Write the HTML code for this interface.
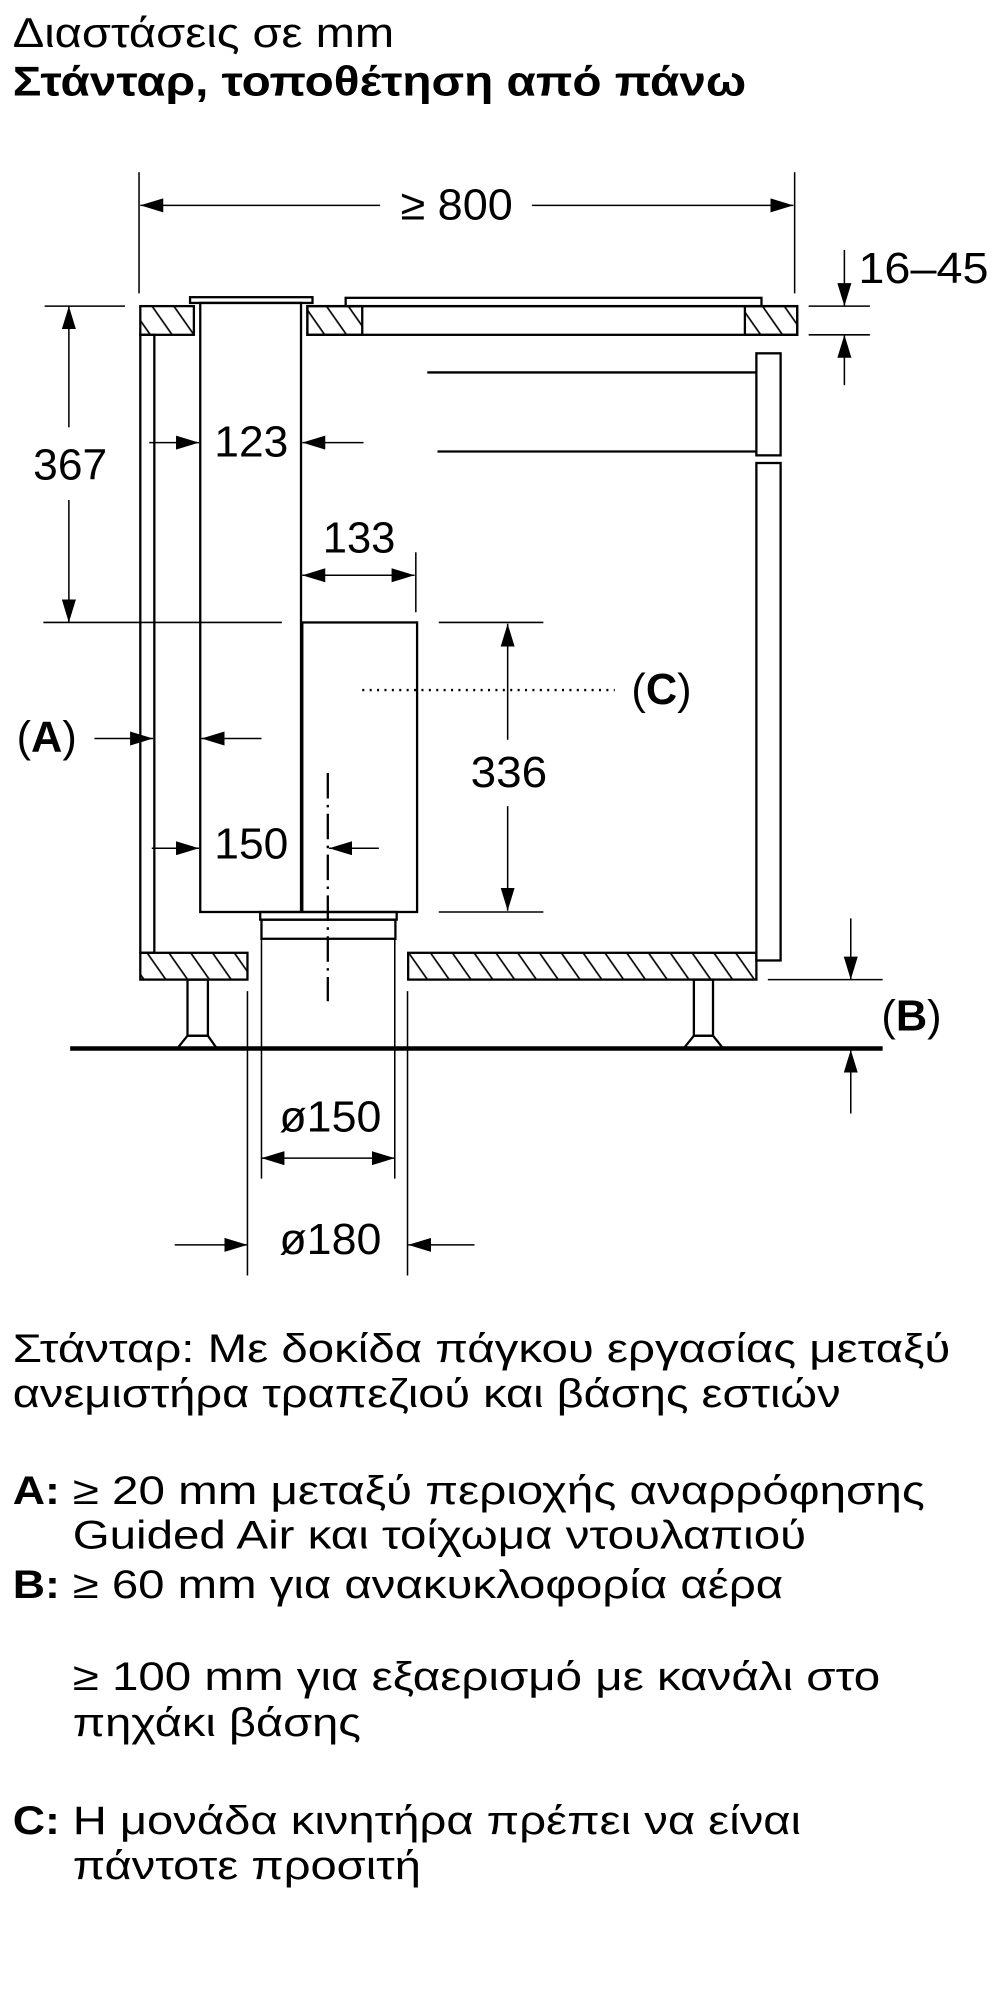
<!DOCTYPE html>
<html><head><meta charset="utf-8"><style>
html,body{margin:0;padding:0;background:#fff;}
svg{display:block;}
text{font-family:"Liberation Sans","DejaVu Sans",sans-serif;fill:#000;}
</style></head><body>
<svg width="1000" height="2000" viewBox="0 0 784 1568" xmlns="http://www.w3.org/2000/svg">
<defs>
<marker id="ar" viewBox="0 0 18 11" refX="18" refY="5.5" markerWidth="18" markerHeight="11" markerUnits="userSpaceOnUse" orient="auto-start-reverse"><path d="M0,0 L18,5.5 L0,11 Z" fill="#000"/></marker>
<pattern id="h" patternUnits="userSpaceOnUse" width="14" height="200" patternTransform="rotate(-35)"><line x1="2" y1="0" x2="2" y2="200" stroke="#000" stroke-width="1.3"/></pattern>
</defs>

<text x="10" y="37" font-size="33" textLength="299" lengthAdjust="spacingAndGlyphs">Διαστάσεις σε mm</text>
<text x="10" y="75" font-size="33" font-weight="bold" textLength="575" lengthAdjust="spacingAndGlyphs">Στάνταρ, τοποθέτηση από πάνω</text>

<g fill="none" stroke="#000" stroke-width="1.8">
<rect x="110" y="240" width="42" height="22.5" fill="url(#h)"/>
<rect x="241" y="240" width="384" height="22.5"/>
<rect x="241" y="240" width="43" height="22.5" fill="url(#h)"/>
<rect x="584" y="240" width="41" height="22.5" fill="url(#h)"/>
<rect x="271" y="233.5" width="326" height="6.5"/>
<rect x="149" y="233" width="96" height="4.5"/>
<rect x="157" y="237.5" width="79" height="477.5"/>
<rect x="110" y="262.5" width="11" height="484.5"/>
<rect x="593" y="277" width="19" height="80"/>
<rect x="593" y="363" width="19" height="390"/>
<line x1="335" y1="292" x2="593" y2="292"/>
<line x1="343" y1="354" x2="593" y2="354"/>
<rect x="237" y="488" width="90" height="227"/>
<rect x="204" y="715" width="107" height="6"/>
<rect x="205" y="721" width="105" height="15"/>
<rect x="110" y="747" width="84" height="21" fill="url(#h)"/>
<rect x="320" y="747" width="273" height="21" fill="url(#h)"/>
<rect x="147" y="768" width="16" height="44"/>
<path d="M147,812 L163,812 L170,822 L139,822 Z"/>
<rect x="544" y="768" width="15" height="44"/>
<path d="M544,812 L559,812 L567,822 L536,822 Z"/>
</g>
<line x1="55" y1="822" x2="692" y2="822" stroke="#000" stroke-width="3.5"/>

<g fill="none" stroke="#000" stroke-width="1.2">
<line x1="109" y1="135" x2="109" y2="230"/>
<line x1="623" y1="135" x2="623" y2="230"/>
<line x1="298" y1="161" x2="110" y2="161" marker-end="url(#ar)"/>
<line x1="417" y1="161" x2="622" y2="161" marker-end="url(#ar)"/>
<line x1="634" y1="240" x2="682" y2="240"/>
<line x1="634" y1="262.5" x2="682" y2="262.5"/>
<line x1="662" y1="196" x2="662" y2="240" marker-end="url(#ar)"/>
<line x1="662" y1="302" x2="662" y2="262.5" marker-end="url(#ar)"/>
<line x1="35" y1="240" x2="98" y2="240"/>
<line x1="34" y1="488" x2="221" y2="488"/>
<line x1="54" y1="335" x2="54" y2="240" marker-end="url(#ar)"/>
<line x1="54" y1="392" x2="54" y2="488" marker-end="url(#ar)"/>
<line x1="117" y1="347" x2="156" y2="347" marker-end="url(#ar)"/>
<line x1="285" y1="347" x2="237" y2="347" marker-end="url(#ar)"/>
<line x1="326" y1="433" x2="326" y2="480"/>
<line x1="237" y1="451" x2="325" y2="451" marker-start="url(#ar)" marker-end="url(#ar)"/>
<line x1="344" y1="488" x2="426" y2="488"/>
<line x1="344" y1="715" x2="426" y2="715"/>
<line x1="398" y1="580" x2="398" y2="489" marker-end="url(#ar)"/>
<line x1="398" y1="632" x2="398" y2="714" marker-end="url(#ar)"/>
<line x1="284" y1="541" x2="482" y2="541" stroke-width="1.8" stroke-dasharray="1.6 4.2"/>
<line x1="74" y1="579" x2="120" y2="579" marker-end="url(#ar)"/>
<line x1="205" y1="579" x2="158" y2="579" marker-end="url(#ar)"/>
<line x1="119" y1="665" x2="156" y2="665" marker-end="url(#ar)"/>
<line x1="297" y1="665" x2="258" y2="665" marker-end="url(#ar)"/>
<line x1="257" y1="606" x2="257" y2="785" stroke-width="1.8" stroke-dasharray="20 5 2 5"/>
<line x1="194" y1="777" x2="194" y2="1000"/>
<line x1="319.5" y1="777" x2="319.5" y2="1000"/>
<line x1="205" y1="736" x2="205" y2="924"/>
<line x1="309.5" y1="736" x2="309.5" y2="924"/>
<line x1="205" y1="908" x2="309.5" y2="908" marker-start="url(#ar)" marker-end="url(#ar)"/>
<line x1="137" y1="976" x2="194" y2="976" marker-end="url(#ar)"/>
<line x1="372" y1="976" x2="320" y2="976" marker-end="url(#ar)"/>
<line x1="602" y1="768" x2="692" y2="768"/>
<line x1="667" y1="720" x2="667" y2="768" marker-end="url(#ar)"/>
<line x1="667" y1="873" x2="667" y2="823" marker-end="url(#ar)"/>
</g>

<g font-size="34">
<text x="314" y="172" textLength="88" lengthAdjust="spacingAndGlyphs">≥ 800</text>
<text x="673" y="222" textLength="102" lengthAdjust="spacingAndGlyphs">16–45</text>
<text x="26" y="376" textLength="58" lengthAdjust="spacingAndGlyphs">367</text>
<text x="168" y="358" textLength="58" lengthAdjust="spacingAndGlyphs">123</text>
<text x="253" y="433" textLength="57" lengthAdjust="spacingAndGlyphs">133</text>
<text x="369" y="617" textLength="60" lengthAdjust="spacingAndGlyphs">336</text>
<text x="168" y="673" textLength="58" lengthAdjust="spacingAndGlyphs">150</text>
<text x="219" y="887" textLength="80" lengthAdjust="spacingAndGlyphs">ø150</text>
<text x="219" y="983" textLength="80" lengthAdjust="spacingAndGlyphs">ø180</text>
<text x="13" y="589">(<tspan font-weight="bold">A</tspan>)</text>
<text x="495" y="552">(<tspan font-weight="bold">C</tspan>)</text>
<text x="691" y="808">(<tspan font-weight="bold">B</tspan>)</text>
</g>

<g font-size="31">
<text x="10" y="1068" textLength="735" lengthAdjust="spacingAndGlyphs">Στάνταρ: Με δοκίδα πάγκου εργασίας μεταξύ</text>
<text x="10" y="1103" textLength="649" lengthAdjust="spacingAndGlyphs">ανεμιστήρα τραπεζιού και βάσης εστιών</text>
<text x="10" y="1179" font-weight="bold" textLength="37" lengthAdjust="spacingAndGlyphs">A:</text>
<text x="57" y="1179" textLength="668" lengthAdjust="spacingAndGlyphs">≥ 20 mm μεταξύ περιοχής αναρρόφησης</text>
<text x="57" y="1214" textLength="575" lengthAdjust="spacingAndGlyphs">Guided Air και τοίχωμα ντουλαπιού</text>
<text x="10" y="1253" font-weight="bold" textLength="37" lengthAdjust="spacingAndGlyphs">B:</text>
<text x="57" y="1253" textLength="557" lengthAdjust="spacingAndGlyphs">≥ 60 mm για ανακυκλοφορία αέρα</text>
<text x="57" y="1325" textLength="633" lengthAdjust="spacingAndGlyphs">≥ 100 mm για εξαερισμό με κανάλι στο</text>
<text x="57" y="1361" textLength="226" lengthAdjust="spacingAndGlyphs">πηχάκι βάσης</text>
<text x="10" y="1438" font-weight="bold" textLength="37" lengthAdjust="spacingAndGlyphs">C:</text>
<text x="57" y="1438" textLength="571" lengthAdjust="spacingAndGlyphs">Η μονάδα κινητήρα πρέπει να είναι</text>
<text x="57" y="1473" textLength="273" lengthAdjust="spacingAndGlyphs">πάντοτε προσιτή</text>
</g>
</svg>
</body></html>
